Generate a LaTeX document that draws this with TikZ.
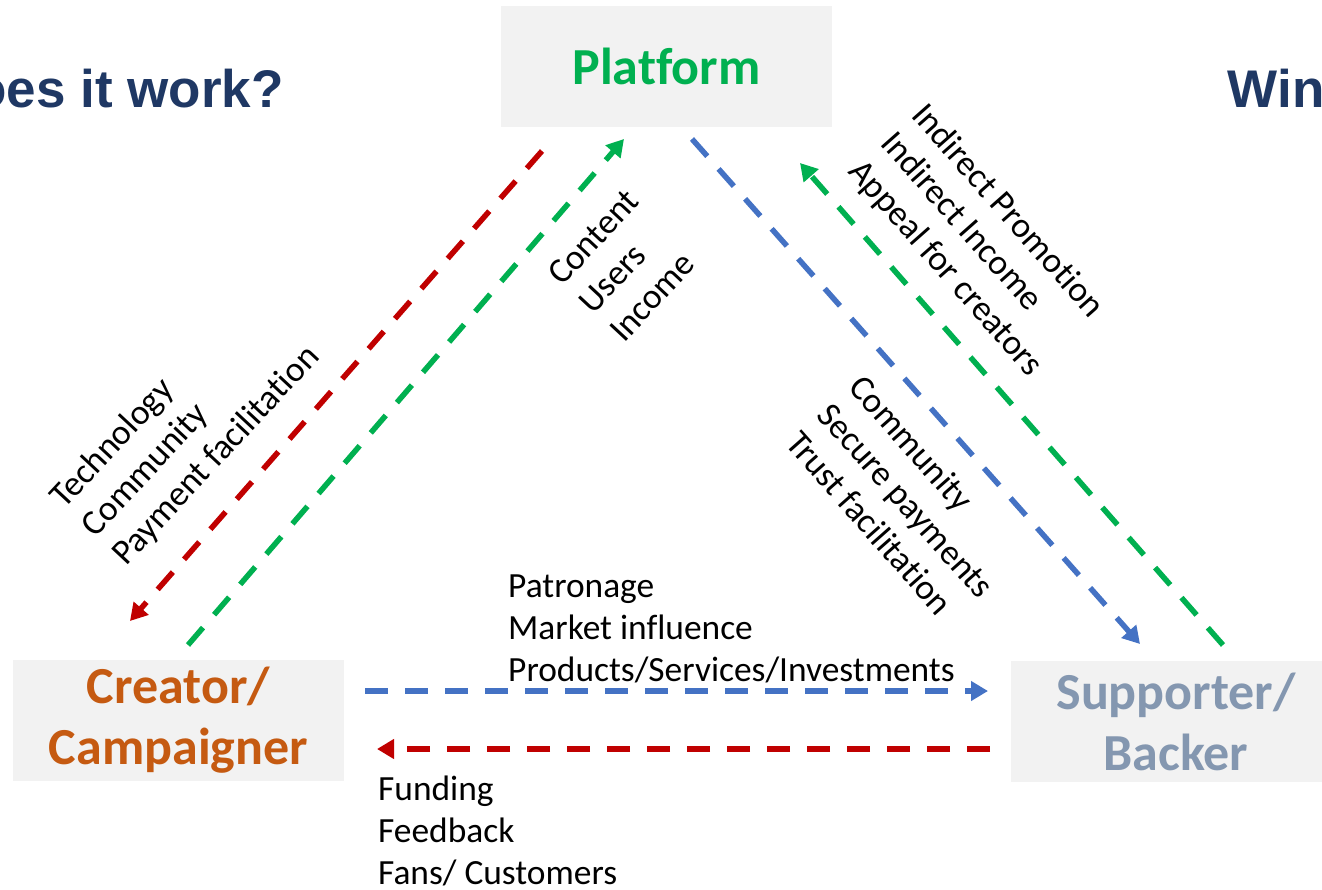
\documentclass[tikz,border=0pt]{standalone}
\usepackage{fontspec}
\setmainfont{Carlito}[Ligatures=NoCommon]
\newfontfamily\titlefont{Liberation Sans}
\usetikzlibrary{arrows.meta}
\definecolor{pgreen}{HTML}{00B050}
\definecolor{pred}{HTML}{C00000}
\definecolor{pblue}{HTML}{4472C4}
\definecolor{porange}{HTML}{C55A11}
\definecolor{pgreyblue}{HTML}{8497B0}
\definecolor{pnavy}{HTML}{1F3864}
\definecolor{pbox}{HTML}{F2F2F2}
\begin{document}
\begin{tikzpicture}[x=1pt,y=-1pt,
  box/.style={fill=pbox, minimum width=331pt, minimum height=121pt, inner sep=0pt,
    align=center, font=\fontsize{52}{61}\selectfont\bfseries},
  lbl/.style={inner sep=0pt, anchor=base west, font=\fontsize{35.4}{42}\selectfont},
  ttl/.style={inner sep=0pt, text=pnavy, font=\titlefont\bfseries\fontsize{53}{60}\selectfont},
  flow/.style={line width=5.5pt, dash pattern=on 23pt off 17pt,
    -{Triangle[length=17pt,width=19pt]}}]
\useasboundingbox (0,0) rectangle (1322,890);
\clip (0,0) rectangle (1322,890);

% titles
\node[ttl, anchor=base east] (t1) at (284,108) {oes it work?};
\node[ttl, anchor=base west] (t2) at (1227.5,108) {Win};

% boxes
\node[box, text=pgreen] (platform) at (666.5,66.5) {Platform};
\node[box, text=porange] (creator) at (178.5,720.5) {Creator/\\Campaigner};
\node[box, text=pgreyblue] (supporter) at (1176,721.5) {Supporter/\\Backer};

% connector end points
\coordinate (r1s) at (542,151);  \coordinate (r1e) at (130,621);
\coordinate (g1s) at (188,645);  \coordinate (g1e) at (624,139);
\coordinate (b1s) at (692,139);  \coordinate (b1e) at (1140,644);
\coordinate (g2s) at (1223,645); \coordinate (g2e) at (800,163);
\coordinate (b2s) at (365,691);  \coordinate (b2e) at (988,691);
\coordinate (r2s) at (990,749);  \coordinate (r2e) at (377,749);

\draw[flow, pred] (r1s) -- (r1e);
\draw[flow, pgreen] (g1s) -- (g1e);
\draw[flow, pblue] (b1s) -- (b1e);
\draw[flow, pgreen] (g2s) -- (g2e);
\draw[flow, pblue] (b2s) -- (b2e);
\draw[flow, pred] (r2s) -- (r2e);

% left labels
\node[lbl, rotate=47] (l1) at (64.6,509.8) {Technology};
\node[lbl, rotate=47] (l2) at (95.3,538.4) {Community};
\node[lbl, rotate=47] (l3) at (126,567) {Payment facilitation};

% middle labels
\node[lbl, rotate=47] (m1) at (562,287) {Content};
\node[lbl, rotate=47] (m2) at (593,315.6) {Users};
\node[lbl, rotate=47] (m3) at (624,344) {Income};

% right top labels
\node[lbl, rotate=-48.5] (p1) at (910,116) {Indirect Promotion};
\node[lbl, rotate=-48.5] (p2) at (879,144) {Indirect Income};
\node[lbl, rotate=-48.5] (p3) at (847,172) {Appeal for creators};

% right middle labels
\node[lbl, rotate=-48.5] (s1) at (847,388) {Community};
\node[lbl, rotate=-48.5] (s2) at (815.5,416) {Secure payments};
\node[lbl, rotate=-48.5] (s3) at (784,444) {Trust facilitation};

% horizontal labels
\node[lbl] (h1) at (508,597) {Patronage};
\node[lbl] (h2) at (508,639) {Market influence};
\node[lbl] (h3) at (508,681) {Products/Services/Investments};

\node[lbl] (f1) at (378,800) {Funding};
\node[lbl] (f2) at (378,842) {Feedback};
\node[lbl] (f3) at (378,884) {Fans/ Customers};
\end{tikzpicture}
\end{document}
